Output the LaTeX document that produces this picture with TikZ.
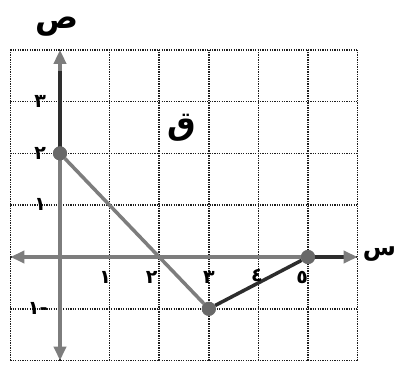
\documentclass[tikz,border=0pt]{standalone}
\usepackage{fontspec}
\newfontfamily\arabicfont[Script=Arabic]{DejaVu Sans}
\TeXXeTstate=1
\usetikzlibrary{arrows.meta}
\definecolor{linegray}{RGB}{125,125,125}
\definecolor{dotgray}{RGB}{105,105,105}
\definecolor{darkline}{RGB}{45,45,45}
\definecolor{gridcol}{RGB}{30,30,30}
\begin{document}
\begin{tikzpicture}[x=49.6pt,y=51.8pt,
  gridline/.style={draw=gridcol,line width=1.6pt,dash pattern=on 1.3pt off 1.1pt},
  axisgray/.style={draw=linegray,line width=3.5pt},
  axisdark/.style={draw=darkline,line width=3.5pt},
  tip/.style={-{Triangle[length=14pt,width=12pt]}},
  pt/.style={circle,fill=dotgray,minimum size=14pt,inner sep=0pt},
  tick/.style={font=\arabicfont\bfseries\fontsize{19}{19}\selectfont,inner sep=0pt,text=black},
  letter/.style={font=\arabicfont\bfseries\fontsize{32}{32}\selectfont,inner sep=0pt,text=black}]
\useasboundingbox (-60pt,-115pt) rectangle (337pt,257pt);
\fill[white] (-60pt,-115pt) rectangle (337pt,257pt);
% grid
\foreach \x in {-1,...,6} \draw[gridline] (\x,-2) -- (\x,4);
\foreach \y in {-2,...,4} \draw[gridline] (-1,\y) -- (6,\y);
% named points
\coordinate (ytop) at (0,4);
\coordinate (ybot) at (0,-2);
\coordinate (xleft) at (-1,0);
\coordinate (xright) at (6,0);
% axes
\draw[axisgray,tip,linegray] (0,2) -- (ybot);
\draw[axisgray,tip] (5,0) -- (xleft);
\draw[axisdark,tip,linegray] (0,2) -- (ytop);
\draw[axisdark] (0,2) -- (0,3.6);
\draw[axisdark,{Triangle[length=14pt,width=12pt,fill=linegray,color=linegray]}-] (xright) -- (5,0);
% graph
\node[pt] (A) at (0,2) {};
\node[pt] (B) at (3,-1) {};
\node[pt] (C) at (5,0) {};
\draw[draw=linegray,line width=3.5pt] (A) -- (B);
\draw[draw=darkline,line width=3.5pt] (B) -- (C);
\node[pt] at (0,2) {};
\node[pt] at (3,-1) {};
\node[pt] at (5,0) {};
% tick labels
\node[tick] (y3) at (-0.4,3) {\beginR ٣\endR};
\node[tick] (y2) at (-0.4,2) {\beginR ٢\endR};
\node[tick] (y1) at (-0.4,1.02) {\beginR ١\endR};
\node[tick] (ym1) at (-0.45,-1) {\beginR -١\endR};
\node[tick] (x1) at (0.91,-0.39) {\beginR ١\endR};
\node[tick] (x2) at (1.85,-0.39) {\beginR ٢\endR};
\node[tick] (x3) at (3.0,-0.39) {\beginR ٣\endR};
\node[tick] (x4) at (3.97,-0.36) {\beginR ٤\endR};
\node[tick] (x5) at (4.88,-0.39) {\beginR ٥\endR};
% letters
\node[letter] (sad) at (-0.06,4.44) {\beginR ص\endR};
\node[letter,anchor=east,font=\arabicfont\bfseries\fontsize{24}{24}\selectfont] (sin) at (6.78,0.05) {\beginR س\endR};
\node[letter] (qaf) at (2.46,2.49) {\beginR ق\endR};
\end{tikzpicture}
\end{document}
